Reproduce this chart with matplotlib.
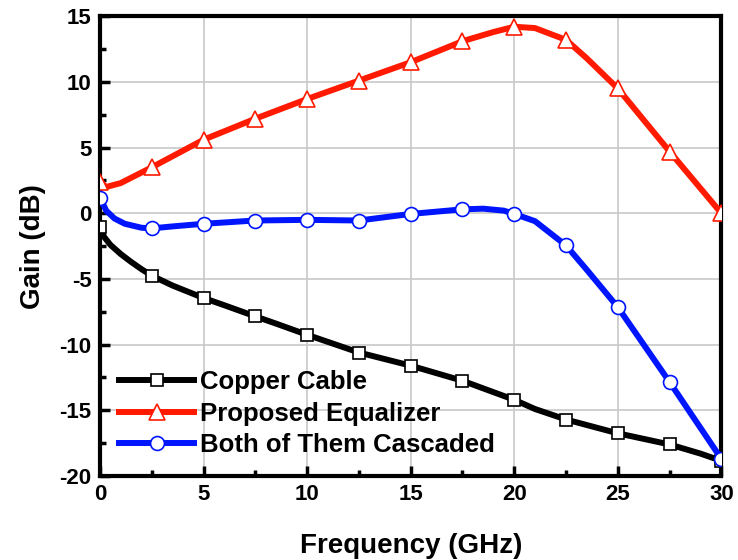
import numpy as np
import matplotlib
matplotlib.use("Agg")
from matplotlib import pyplot as plt
from matplotlib.ticker import MultipleLocator

plt.rcParams['font.family'] = ['Liberation Sans', 'DejaVu Sans']
plt.rcParams['font.weight'] = 'bold'
plt.rcParams['axes.unicode_minus'] = False

# Copper cable
cu_x = [0, 0.2, 0.5, 1, 1.5, 2, 2.5, 3.5, 5, 6, 7.5, 8.5, 10, 12.5, 15, 17.5, 20, 21, 22.5, 25, 27.5, 29, 30]
cu_y = [-1.05, -1.8, -2.4, -3.1, -3.7, -4.25, -4.75, -5.5, -6.45, -7.0, -7.85, -8.4, -9.25, -10.6, -11.6, -12.75, -14.2, -14.9, -15.7, -16.75, -17.6, -18.3, -18.85]

# Proposed equalizer
eq_x = [0, 0.3, 1, 2.5, 5, 7.5, 10, 12.5, 15, 17.5, 19, 20, 21, 22.5, 23.5, 25, 27.5, 30]
eq_y = [2.4, 2.0, 2.3, 3.5, 5.6, 7.2, 8.7, 10.1, 11.5, 13.1, 13.8, 14.2, 14.1, 13.2, 11.8, 9.5, 4.7, 0.0]

# Both cascaded
bc_x = [0, 0.3, 0.7, 1.2, 2, 2.5, 3.5, 5, 7.5, 10, 12.5, 15, 17.5, 18.5, 19.5, 20, 21, 22.5, 23.5, 25, 27.5, 30]
bc_y = [1.2, 0.2, -0.4, -0.8, -1.1, -1.15, -1.0, -0.8, -0.55, -0.5, -0.55, -0.05, 0.3, 0.35, 0.2, -0.05, -0.6, -2.45, -4.3, -7.15, -12.85, -18.7]


def mark_idx(xs):
    return [i for i, v in enumerate(xs) if abs(v / 2.5 - round(v / 2.5)) < 1e-9]


fig = plt.figure(figsize=(7.38, 5.6), dpi=100)
ax = fig.add_axes([0.1355, 0.15, 0.842, 0.821])

ax.plot(cu_x, cu_y, color='black', lw=4.3, marker='s', ms=9, mfc='white',
        mec='black', mew=1.2, markevery=mark_idx(cu_x), label='Copper Cable', zorder=3)
ax.plot(eq_x, eq_y, color='#ff1a00', lw=4.3, marker='^', ms=11, mfc='white',
        mec='#ff1a00', mew=1.2, markevery=mark_idx(eq_x), label='Proposed Equalizer', zorder=3)
ax.plot(bc_x, bc_y, color='#0015ff', lw=4.3, marker='o', ms=10, mfc='white',
        mec='#0015ff', mew=1.2, markevery=mark_idx(bc_x), label='Both of Them Cascaded', zorder=3)

ax.set_xlim(0, 30)
ax.set_ylim(-20, 15)
ax.xaxis.set_major_locator(MultipleLocator(5))
ax.xaxis.set_minor_locator(MultipleLocator(2.5))
ax.yaxis.set_major_locator(MultipleLocator(5))
ax.yaxis.set_minor_locator(MultipleLocator(2.5))
ax.grid(True, which='major', color='#c8c8c8', lw=1.2, zorder=0)
ax.tick_params(which='major', direction='in', length=7, width=2.5, labelsize=16, pad=6)
ax.tick_params(which='minor', direction='in', length=4, width=2.5)
ax.tick_params(top=False, right=False)
for s in ax.spines.values():
    s.set_linewidth(3)
for lab in ax.get_xticklabels() + ax.get_yticklabels():
    lab.set_fontweight('bold')

ax.set_xlabel('Frequency (GHz)', fontsize=20, fontweight='bold', labelpad=20)
ax.set_ylabel('Gain (dB)', fontsize=20, fontweight='bold', labelpad=10)

leg = ax.legend(loc='lower left', bbox_to_anchor=(0.0, 0.0), frameon=False,
                prop={'size': 18.5, 'weight': 'bold'}, handlelength=2.9,
                handletextpad=0.25, labelspacing=0.28, borderaxespad=0.5,
                borderpad=0.25)

fig.savefig('out.png', dpi=100)
